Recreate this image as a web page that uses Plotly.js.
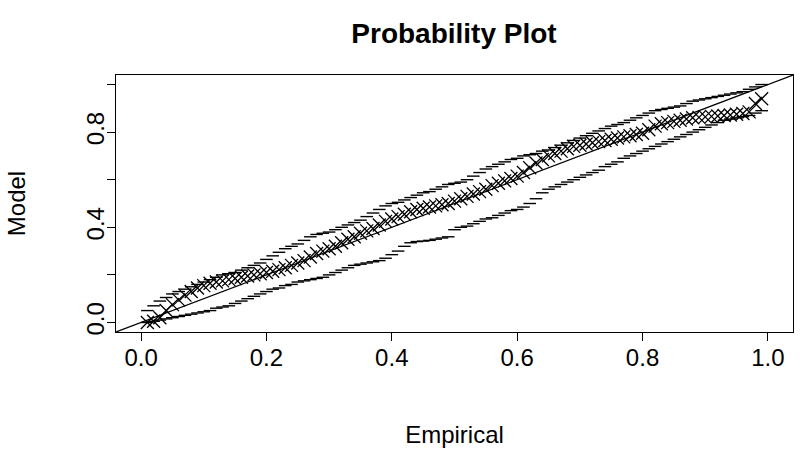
<!DOCTYPE html>
<html>
<head>
<meta charset="utf-8">
<script src="https://cdn.plot.ly/plotly-3.0.1.min.js"></script>
<style>
  html, body { margin: 0; padding: 0; background: #fff; }
  #chart { width: 800px; height: 454px; }
</style>
</head>
<body>
<div id="chart"></div>
<script>
// Probability plot: empirical vs model probabilities with confidence bands

const empirical = [
  0.01, 0.02, 0.03, 0.04, 0.05, 0.06, 0.07, 0.08, 0.09, 0.10,
  0.11, 0.12, 0.13, 0.14, 0.15, 0.16, 0.17, 0.18, 0.19, 0.20,
  0.21, 0.22, 0.23, 0.24, 0.25, 0.26, 0.27, 0.28, 0.29, 0.30,
  0.31, 0.32, 0.33, 0.34, 0.35, 0.36, 0.37, 0.38, 0.39, 0.40,
  0.41, 0.42, 0.43, 0.44, 0.45, 0.46, 0.47, 0.48, 0.49, 0.50,
  0.51, 0.52, 0.53, 0.54, 0.55, 0.56, 0.57, 0.58, 0.59, 0.60,
  0.61, 0.62, 0.63, 0.64, 0.65, 0.66, 0.67, 0.68, 0.69, 0.70,
  0.71, 0.72, 0.73, 0.74, 0.75, 0.76, 0.77, 0.78, 0.79, 0.80,
  0.81, 0.82, 0.83, 0.84, 0.85, 0.86, 0.87, 0.88, 0.89, 0.90,
  0.91, 0.92, 0.93, 0.94, 0.95, 0.96, 0.97, 0.98, 0.99
];

const model = [
  0.000, 0.005, 0.020, 0.050, 0.075, 0.095, 0.115, 0.130, 0.145, 0.155,
  0.165, 0.170, 0.175, 0.180, 0.185, 0.190, 0.195, 0.200, 0.205, 0.210,
  0.215, 0.222, 0.230, 0.240, 0.250, 0.260, 0.275, 0.290, 0.300, 0.310,
  0.320, 0.335, 0.350, 0.360, 0.375, 0.385, 0.395, 0.410, 0.425, 0.435,
  0.445, 0.455, 0.465, 0.475, 0.480, 0.485, 0.490, 0.495, 0.500, 0.510,
  0.520, 0.530, 0.540, 0.550, 0.560, 0.575, 0.585, 0.595, 0.605, 0.615,
  0.630, 0.650, 0.670, 0.685, 0.700, 0.710, 0.720, 0.730, 0.740, 0.745,
  0.750, 0.755, 0.760, 0.765, 0.770, 0.775, 0.780, 0.785, 0.790, 0.795,
  0.810, 0.825, 0.835, 0.840, 0.845, 0.850, 0.855, 0.860, 0.862, 0.864,
  0.866, 0.868, 0.870, 0.872, 0.875, 0.878, 0.885, 0.920, 0.940
];

const upper = [
  0.050, 0.070, 0.090, 0.105, 0.120, 0.130, 0.140, 0.150, 0.160, 0.170,
  0.180, 0.190, 0.200, 0.205, 0.210, 0.220, 0.230, 0.240, 0.250, 0.265,
  0.280, 0.295, 0.310, 0.320, 0.330, 0.345, 0.360, 0.370, 0.375, 0.380,
  0.390, 0.400, 0.410, 0.420, 0.430, 0.445, 0.460, 0.475, 0.490, 0.500,
  0.505, 0.515, 0.525, 0.535, 0.545, 0.550, 0.560, 0.570, 0.580, 0.585,
  0.590, 0.600, 0.615, 0.630, 0.645, 0.655, 0.665, 0.675, 0.685, 0.690,
  0.700, 0.705, 0.710, 0.720, 0.725, 0.735, 0.745, 0.755, 0.765, 0.775,
  0.785, 0.795, 0.805, 0.815, 0.825, 0.832, 0.840, 0.850, 0.860, 0.870,
  0.880, 0.890, 0.895, 0.900, 0.905, 0.910, 0.920, 0.930, 0.935, 0.940,
  0.945, 0.950, 0.955, 0.960, 0.965, 0.970, 0.980, 0.990, 1.000
];

const lower = [
  0.000, 0.005, 0.010, 0.015, 0.020, 0.025, 0.030, 0.035, 0.040, 0.045,
  0.050, 0.060, 0.065, 0.070, 0.080, 0.090, 0.100, 0.110, 0.120, 0.130,
  0.140, 0.145, 0.155, 0.160, 0.170, 0.175, 0.180, 0.185, 0.190, 0.200,
  0.210, 0.220, 0.230, 0.240, 0.245, 0.250, 0.255, 0.260, 0.270, 0.285,
  0.300, 0.320, 0.335, 0.340, 0.342, 0.345, 0.350, 0.355, 0.360, 0.390,
  0.400, 0.405, 0.415, 0.425, 0.435, 0.440, 0.450, 0.460, 0.470, 0.475,
  0.485, 0.500, 0.520, 0.545, 0.560, 0.570, 0.580, 0.590, 0.600, 0.610,
  0.620, 0.630, 0.640, 0.655, 0.665, 0.675, 0.690, 0.700, 0.710, 0.720,
  0.730, 0.740, 0.750, 0.760, 0.770, 0.780, 0.790, 0.800, 0.810, 0.820,
  0.830, 0.840, 0.850, 0.855, 0.860, 0.865, 0.870, 0.880, 0.890
];

// 1:1 reference line endpoints (extends past the axes, clipped)
const diagonal = [-1, 2];

const tickVals = [0, 0.2, 0.4, 0.6, 0.8, 1.0];
const xTickText = ['0.0', '0.2', '0.4', '0.6', '0.8', '1.0'];
const yTickText = ['0.0', '', '0.4', '', '0.8', ''];

const FONT = 'Liberation Sans, Arial, Helvetica, sans-serif';

const traces = [
  { // 1:1 line
    x: diagonal, y: diagonal, type: 'scatter', mode: 'lines',
    line: { color: '#000', width: 1.2 }, hoverinfo: 'skip', showlegend: false
  },
  { // upper band
    x: empirical, y: upper, type: 'scatter', mode: 'markers',
    marker: { symbol: 'line-ew-open', size: 9, color: '#000', line: { color: '#000', width: 1.4 } },
    showlegend: false
  },
  { // lower band
    x: empirical, y: lower, type: 'scatter', mode: 'markers',
    marker: { symbol: 'line-ew-open', size: 9, color: '#000', line: { color: '#000', width: 1.4 } },
    showlegend: false
  },
  { // model points
    x: empirical, y: model, type: 'scatter', mode: 'markers',
    marker: { symbol: 'x-thin-open', size: 13, color: '#000', line: { color: '#000', width: 1.3 } },
    showlegend: false
  }
];

const layout = {
  width: 800, height: 454,
  paper_bgcolor: '#fff', plot_bgcolor: '#fff',
  margin: { l: 116, r: 7, t: 75, b: 122 },
  font: { family: FONT, color: '#000', size: 24 },
  title: {
    text: 'Probability Plot',
    font: { family: FONT, size: 28, weight: 'bold', color: '#000' },
    x: 0.5675, xanchor: 'center', y: 0.927, yanchor: 'middle'
  },
  xaxis: {
    range: [-0.04, 1.04], zeroline: false, showgrid: false,
    showline: true, mirror: true, linecolor: '#000', linewidth: 1,
    tickmode: 'array', tickvals: tickVals, ticktext: xTickText,
    ticks: 'outside', ticklen: 8, tickcolor: '#000', tickwidth: 1,
    ticklabelstandoff: -4,
    tickfont: { family: FONT, size: 24, color: '#000' },
    title: { text: 'Empirical', font: { family: FONT, size: 24, color: '#000' }, standoff: 56 },
    automargin: true
  },
  yaxis: {
    range: [-0.04, 1.04], zeroline: false, showgrid: false,
    showline: true, mirror: true, linecolor: '#000', linewidth: 1,
    tickmode: 'array', tickvals: tickVals, ticktext: yTickText,
    ticks: 'outside', ticklen: 8, tickcolor: '#000', tickwidth: 1,
    tickangle: -90, ticklabelstandoff: -7,
    tickfont: { family: FONT, size: 24, color: '#000' },
    title: { text: 'Model', font: { family: FONT, size: 24, color: '#000' }, standoff: 50 },
    automargin: true
  }
};

Plotly.newPlot('chart', traces, layout, { displayModeBar: false, staticPlot: true });
</script>
</body>
</html>
